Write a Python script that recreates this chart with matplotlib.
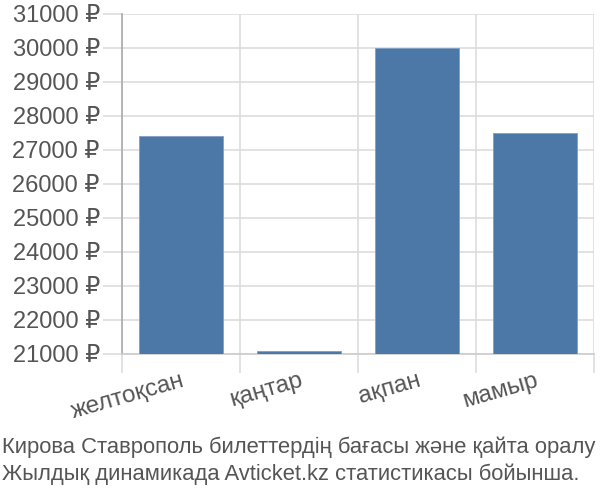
import matplotlib
matplotlib.use("Agg")
import matplotlib.pyplot as plt

plt.rcParams['font.family'] = ['Liberation Sans', 'DejaVu Sans']

# data
months = ['желтоқсан', 'қаңтар', 'ақпан', 'мамыр']
prices = [27420, 21080, 30000, 27500]
y_ticks = list(range(21000, 31001, 1000))
caption = ('Кирова Ставрополь билеттердің бағасы және қайта оралу\n'
           'Жылдық динамикада Avticket.kz статистикасы бойынша.')

text_col = '#555555'
grid_col = '#dddddd'

fig = plt.figure(figsize=(6, 5), dpi=100)
ax = fig.add_axes([122/600, 1-354/500, 472/600, 340/500])

x = list(range(len(months)))
ax.bar(x, prices, width=0.71, bottom=0, color='#4c78a8',
       edgecolor='#7f9fc4', linewidth=0.6, zorder=3)

ax.set_xlim(-0.5, len(months) - 0.5)
ax.set_ylim(21000, 31000)
ax.set_yticks(y_ticks)
ax.set_yticklabels([f'{v} ₽' for v in y_ticks])

# vertical grid at category boundaries, extending below as ticks
ax.set_xticks([i - 0.5 for i in range(len(months) + 1)], minor=True)
ax.set_xticks(x)
ax.set_xticklabels(months, rotation=16, ha='right', va='top',
                   rotation_mode='anchor')
ax.tick_params(axis='x', which='major', length=0, pad=11,
               labelsize=17.5, labelcolor=text_col)
ax.tick_params(axis='x', which='minor', length=14, width=1.2, color=grid_col)
ax.tick_params(axis='y', length=14, width=1.2, color=grid_col,
               labelsize=17, labelcolor=text_col, pad=2)
ax.grid(True, axis='y', color=grid_col, linewidth=1.2, zorder=0)
ax.grid(True, axis='x', which='minor', color=grid_col, linewidth=1.2, zorder=0)

for s in ['top', 'right']:
    ax.spines[s].set_visible(False)
ax.spines['left'].set_color('#aaaaaa')
ax.spines['left'].set_linewidth(1.2)
ax.spines['bottom'].set_color('#cccccc')
ax.spines['bottom'].set_linewidth(1.2)

fig.text(0.003, 1-437/500, caption, ha='left', va='top', fontsize=15.85,
         color=text_col, linespacing=1.28)

fig.savefig('out.png', dpi=100)
